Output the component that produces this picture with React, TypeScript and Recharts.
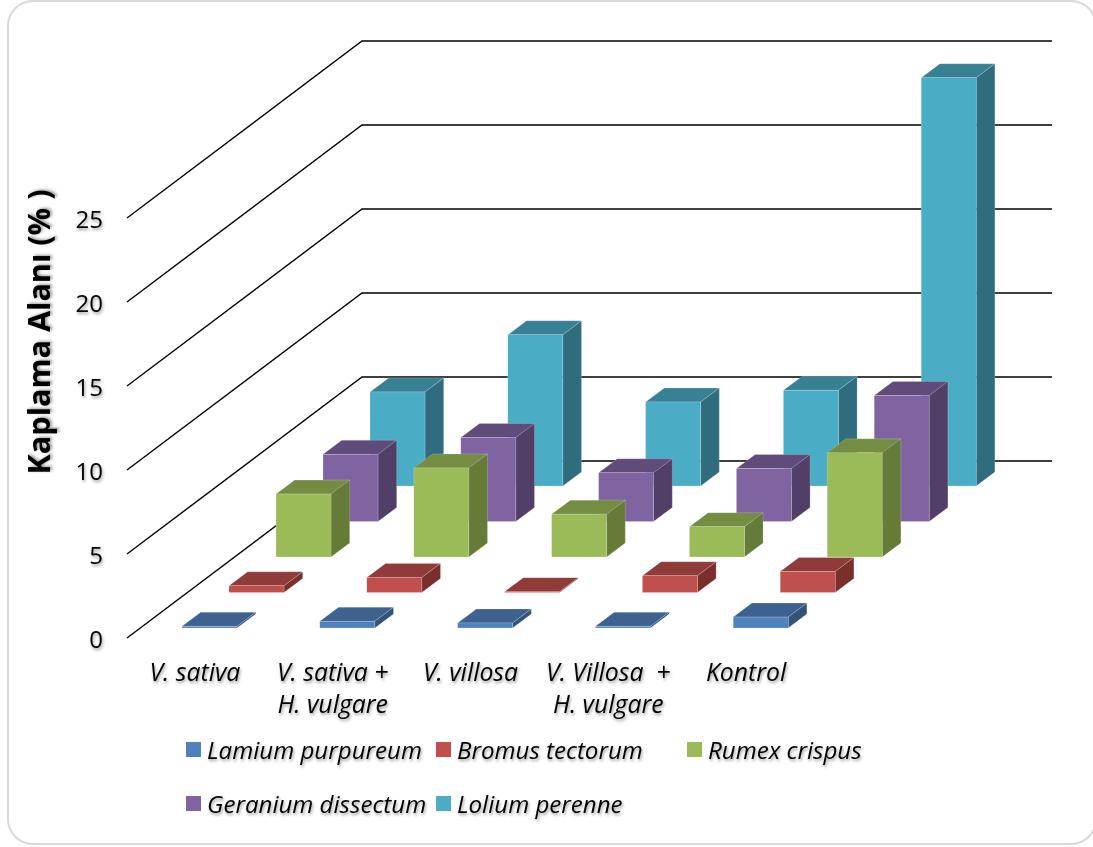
import { Bar, BarChart, CartesianGrid, Label, Legend, XAxis, YAxis } from "recharts";

const CATEGORIES = ["V. sativa", "V. sativa +\nH. vulgare", "V. villosa", "V. Villosa  +\nH. vulgare", "Kontrol"];
const TICKS = [0, 5, 10, 15, 20, 25];

const LAMIUM = [0.1, 0.4, 0.3, 0.1, 0.65];
const BROMUS = [0.4, 0.9, 0.05, 1.0, 1.25];
const RUMEX = [3.75, 5.3, 2.55, 1.8, 6.2];
const GERANIUM = [4.0, 5.0, 2.9, 3.15, 7.5];
const LOLIUM = [5.6, 9.0, 5.0, 5.7, 24.3];

const SERIES = [
  { key: "lamium", name: "Lamium purpureum", values: LAMIUM, front: "#4f81bd", top: "#3d628f", side: "#335378" },
  { key: "bromus", name: "Bromus tectorum", values: BROMUS, front: "#c0504d", top: "#8f3b39", side: "#7a2f2d" },
  { key: "rumex", name: "Rumex crispus", values: RUMEX, front: "#9bbb59", top: "#748d42", side: "#667b38" },
  { key: "geranium", name: "Geranium dissectum", values: GERANIUM, front: "#8064a2", top: "#604b7a", side: "#523f68" },
  { key: "lolium", name: "Lolium perenne", values: LOLIUM, front: "#4bacc6", top: "#388195", side: "#2f6d7e" },
];

const rows = CATEGORIES.map((name, i) => {
  const row: any = { name };
  SERIES.forEach((s) => (row[s.key] = s.values[i]));
  return row;
});

// fake 3D: every series sits further back on the floor
const SLOT_X = 47;
const SLOT_Y = 35.5;
const DEPTH_X = 18.7;
const DEPTH_Y = 14;
const WALL_X = 235;
const WALL_Y = 177;
const FONT = "'Open Sans', sans-serif";
const SHADOW = "drop-shadow(1px 2px 1.5px rgba(0,0,0,0.4))";

function Box3D(props: any) {
  const { x, y, width, height, index: i, s } = props;
  const left = x + 14 + SLOT_X * i;
  const top = y - 10 - SLOT_Y * i;
  const right = left + width;
  const bottom = top + height;
  const edge = { stroke: "rgba(255,255,255,0.3)", strokeWidth: 0.6 };
  return (
    <g>
      <polygon
        points={`${left},${top} ${left + DEPTH_X},${top - DEPTH_Y} ${right + DEPTH_X},${top - DEPTH_Y} ${right},${top}`}
        fill={s.top}
        {...edge}
      />
      <polygon
        points={`${right},${top} ${right + DEPTH_X},${top - DEPTH_Y} ${right + DEPTH_X},${bottom - DEPTH_Y} ${right},${bottom}`}
        fill={s.side}
        {...edge}
      />
      <rect x={left} y={top} width={width} height={height} fill={s.front} {...edge} />
    </g>
  );
}

function GridLine(props: any) {
  const { x1, y1, x2 } = props;
  const d = `M${x1},${y1} L${x1 + WALL_X},${y1 - WALL_Y} L${x2 + WALL_X + 1},${y1 - WALL_Y}`;
  return <path d={d} fill="none" stroke="#000" strokeWidth={1.4} />;
}

function CategoryTick({ x, payload }: any) {
  const lines = String(payload.value).split("\n");
  return (
    <g style={{ filter: SHADOW }}>
      {lines.map((t, i) => (
        <text
          key={i}
          x={x - 1}
          y={681 + i * 32}
          textAnchor="middle"
          fontFamily={FONT}
          fontStyle="italic"
          fontSize={24.8}
          fill="#000"
          style={{ whiteSpace: "pre" }}
        >
          {t}
        </text>
      ))}
    </g>
  );
}

function ValueTick({ y, payload }: any) {
  return (
    <text
      x={103}
      y={y + 9.5}
      textAnchor="end"
      fontFamily={FONT}
      fontSize={24}
      fill="#000"
      style={{ filter: SHADOW }}
    >
      {payload.value}
    </text>
  );
}

function AxisTitle() {
  return (
    <text
      x={0}
      y={0}
      transform="translate(50,332) rotate(-90)"
      textAnchor="middle"
      fontFamily={FONT}
      fontWeight={700}
      fontSize={30.6}
      fill="#000"
      style={{ filter: SHADOW }}
    >
      Kaplama Alanı (% )
    </text>
  );
}

function LegendBox() {
  return (
    <div style={{ display: "grid", gridTemplateColumns: "250px 251px 200px", gridAutoRows: "54px", fontFamily: FONT }}>
      {SERIES.map((s) => (
        <div key={s.key} style={{ position: "relative", height: 54 }}>
          <span
            style={{ position: "absolute", left: 0, top: 12, width: 15, height: 15, background: s.front }}
          />
          <span
            style={{
              position: "absolute",
              left: 21,
              top: 5,
              whiteSpace: "nowrap",
              fontStyle: "italic",
              fontSize: 24.1,
              lineHeight: "30px",
              color: "#000",
              filter: SHADOW,
            }}
          >
            {s.name}
          </span>
        </div>
      ))}
    </div>
  );
}

export default function App() {
  return (
    <div style={{ position: "absolute", left: 0, top: 0, width: 1093, height: 847, overflow: "hidden", background: "#fff" }}>
      <div
        style={{
          position: "absolute",
          left: 7,
          top: 0,
          width: 1090,
          height: 845,
          boxSizing: "border-box",
          border: "2px solid #d9d9d9",
          borderRadius: 26,
        }}
      />
      <BarChart
        width={1093}
        height={847}
        data={rows}
        margin={{ top: 218, right: 277, bottom: 0, left: 0 }}
        barSize={55}
        barGap={-55}
        barCategoryGap={0}
        style={{ position: "absolute", left: 0, top: 0 }}
      >
        <CartesianGrid horizontal={(p: any) => <GridLine key={p.index} {...p} />} vertical={false} />
        <XAxis dataKey="name" height={209} axisLine={false} tickLine={false} interval={0} tick={<CategoryTick />} />
        <YAxis width={127} domain={[0, 25]} ticks={TICKS} axisLine={false} tickLine={false} tick={<ValueTick />}>
          <Label content={<AxisTitle />} />
        </YAxis>
        {/* vertical + center + middle keeps the legend from eating plot space */}
        <Legend
          layout="vertical"
          align="center"
          verticalAlign="middle"
          content={<LegendBox />}
          wrapperStyle={{ position: "absolute", left: 186, top: 730, width: 702, bottom: "auto" }}
        />
        {/* back series first so the front ones cover them */}
        {[...SERIES].reverse().map((s) => (
          <Bar
            key={s.key}
            dataKey={s.key}
            name={s.name}
            fill={s.front}
            isAnimationActive={false}
            shape={(p: any) => <Box3D {...p} index={SERIES.indexOf(s)} s={s} />}
          />
        ))}
      </BarChart>
    </div>
  );
}
